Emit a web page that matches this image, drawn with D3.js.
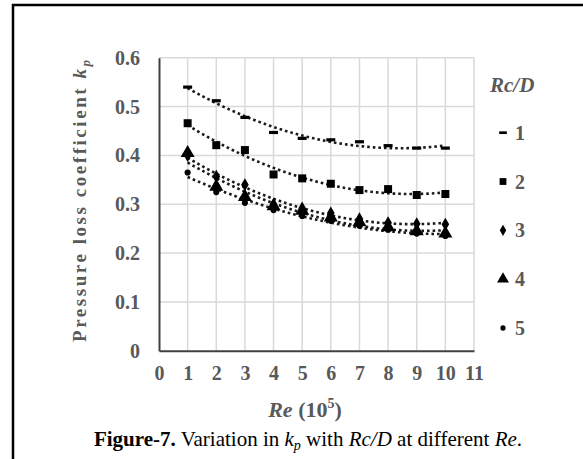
<!DOCTYPE html>
<html><head><meta charset="utf-8">
<script src="https://cdn.jsdelivr.net/npm/d3@7"></script>
<style>body{margin:0;background:#fff}svg{display:block}</style>
</head><body><svg id="c" width="583" height="459"></svg>
<script>
// ---- data ----
const reValues = [1, 2, 3, 4, 5, 6, 7, 8, 9, 10];
const rcdLabels = ["1", "2", "3", "4", "5"];
const kpRcd1 = [0.540, 0.512, 0.478, 0.447, 0.435, 0.432, 0.428, 0.420, 0.415, 0.415];
const kpRcd2 = [0.466, 0.421, 0.411, 0.361, 0.353, 0.342, 0.329, 0.331, 0.319, 0.321];
const kpRcd3 = [0.400, 0.357, 0.340, 0.300, 0.292, 0.282, 0.270, 0.262, 0.260, 0.259];
const kpRcd4 = [0.405, 0.336, 0.315, 0.296, 0.287, 0.273, 0.263, 0.253, 0.245, 0.240];
const kpRcd5 = [0.365, 0.325, 0.303, 0.288, 0.276, 0.266, 0.256, 0.248, 0.240, 0.235];
const xTickValues = [0, 1, 2, 3, 4, 5, 6, 7, 8, 9, 10, 11];
const yTickValues = [0, 0.1, 0.2, 0.3, 0.4, 0.5, 0.6];
const yTickLabels = ["0", "0.1", "0.2", "0.3", "0.4", "0.5", "0.6"];

const seriesList = [kpRcd1, kpRcd2, kpRcd3, kpRcd4, kpRcd5];
const markerKinds = ["dash", "square", "diamond", "triangle", "circle"];

// ---- layout ----
const svg = d3.select("#c");
const pL = 159, pR = 474, pT = 57.8, pB = 350.7;
const x = d3.scaleLinear().domain([0, 11]).range([pL, pR]);
const y = d3.scaleLinear().domain([0, 0.6]).range([pB, pT]);
const gray = "#595959";
const serif = "'Liberation Serif','DejaVu Serif',serif";

// page frame
svg.append("line").attr("x1", 13).attr("x2", 13).attr("y1", 4).attr("y2", 459)
  .attr("stroke", "#000").attr("stroke-width", 2.5);
svg.append("line").attr("x1", 12).attr("x2", 583).attr("y1", 5).attr("y2", 5)
  .attr("stroke", "#000").attr("stroke-width", 2.5);

// gridlines
const grid = svg.append("g").attr("stroke", "#d9d9d9").attr("stroke-width", 1.5);
grid.selectAll(".gx").data(xTickValues.filter(d => d > 0)).join("line")
  .attr("x1", d => x(d)).attr("x2", d => x(d)).attr("y1", pT).attr("y2", pB);
grid.selectAll(".gy").data(yTickValues.filter(d => d > 0)).join("line")
  .attr("x1", pL).attr("x2", pR).attr("y1", d => y(d)).attr("y2", d => y(d));

// axes via d3
const xAxis = d3.axisBottom(x).tickValues(xTickValues).tickSize(0).tickPadding(15)
  .tickFormat(d3.format("d"));
const gx = svg.append("g").attr("transform", `translate(0,${pB})`).call(xAxis);
gx.select(".domain").attr("stroke", "#404040").attr("stroke-width", 2);
gx.selectAll("text").attr("font-family", serif).attr("font-size", 20)
  .attr("font-weight", "bold").attr("fill", gray);

const yAxis = d3.axisLeft(y).tickValues(yTickValues).tickSize(0).tickPadding(19)
  .tickFormat((d, i) => yTickLabels[i]);
const gy = svg.append("g").attr("transform", `translate(${pL},0)`).call(yAxis);
gy.select(".domain").attr("stroke", "#404040").attr("stroke-width", 2);
gy.selectAll("text").attr("font-family", serif).attr("font-size", 20)
  .attr("font-weight", "bold").attr("fill", gray);

// quadratic least-squares trendline from the data
function polyfit2(xs, ys) {
  let n = xs.length, s = [0,0,0,0,0], t = [0,0,0];
  for (let i = 0; i < n; i++) {
    const xi = xs[i], yi = ys[i];
    for (let k = 0; k < 5; k++) s[k] += Math.pow(xi, k);
    for (let k = 0; k < 3; k++) t[k] += yi * Math.pow(xi, k);
  }
  const A = [[s[0], s[1], s[2], t[0]], [s[1], s[2], s[3], t[1]], [s[2], s[3], s[4], t[2]]];
  for (let i = 0; i < 3; i++) {
    for (let j = i + 1; j < 3; j++) {
      const f = A[j][i] / A[i][i];
      for (let k = i; k < 4; k++) A[j][k] -= f * A[i][k];
    }
  }
  const c = [0,0,0];
  for (let i = 2; i >= 0; i--) {
    let v = A[i][3];
    for (let k = i + 1; k < 3; k++) v -= A[i][k] * c[k];
    c[i] = v / A[i][i];
  }
  return xv => c[0] + c[1] * xv + c[2] * xv * xv;
}

const line = d3.line().x(d => x(d[0])).y(d => y(d[1]));
const xs = d3.range(reValues[0], reValues[reValues.length - 1] + 0.001, 0.1);
seriesList.forEach(vals => {
  const f = polyfit2(reValues, vals);
  svg.append("path").datum(xs.map(v => [v, f(v)])).attr("d", line)
    .attr("fill", "none").attr("stroke", "#1a1a1a").attr("stroke-width", 2.6)
    .attr("stroke-dasharray", "2.6 3");
});

function drawMarker(g, kind, cx, cy, scale) {
  scale = scale || 1;
  if (kind === "dash") {
    g.append("rect").attr("x", cx - 4.5 * scale).attr("y", cy - 1.6 * scale)
      .attr("width", 9 * scale).attr("height", 3.2 * scale).attr("fill", "#000");
  } else {
    const typ = { square: d3.symbolSquare, diamond: d3.symbolDiamond,
      triangle: d3.symbolTriangle, circle: d3.symbolCircle }[kind];
    const size = { square: 64, diamond: 50, triangle: 85, circle: 30 }[kind] * scale * scale;
    g.append("path").attr("d", d3.symbol().type(typ).size(size)())
      .attr("transform", `translate(${cx},${cy})`).attr("fill", "#000");
  }
}

// markers
seriesList.forEach((vals, si) => {
  const g = svg.append("g");
  vals.forEach((v, i) => drawMarker(g, markerKinds[si], x(reValues[i]), y(v)));
});

// legend
svg.append("text").attr("x", 490).attr("y", 92).attr("font-family", serif)
  .attr("font-size", 21).attr("font-weight", "bold").attr("font-style", "italic")
  .attr("fill", gray).text("Rc/D");
const legY = d3.scalePoint().domain(rcdLabels).range([132.7, 328]);
rcdLabels.forEach((lab, i) => {
  const g = svg.append("g");
  drawMarker(g, markerKinds[i], 503, legY(lab), 0.85);
  g.append("text").attr("x", 515).attr("y", legY(lab)).attr("dy", "0.35em")
    .attr("font-family", serif).attr("font-size", 20).attr("font-weight", "bold")
    .attr("fill", gray).text(lab);
});

// axis titles
const yt = svg.append("text").attr("transform", `translate(86,201) rotate(-90)`)
  .attr("text-anchor", "middle").attr("font-family", serif).attr("font-size", 19)
  .attr("font-weight", "bold").attr("fill", gray)
  .attr("textLength", 282).attr("lengthAdjust", "spacing");
yt.append("tspan").text("Pressure loss coefficient  ");
yt.append("tspan").attr("font-style", "italic").text("k");
yt.append("tspan").attr("font-style", "italic").attr("font-size", 13).attr("dy", 4).text("p");

const xt = svg.append("text").attr("x", 305).attr("y", 417).attr("text-anchor", "middle")
  .attr("font-family", serif).attr("font-size", 22).attr("font-weight", "bold").attr("fill", gray);
xt.append("tspan").attr("font-style", "italic").text("Re");
xt.append("tspan").text(" (10");
xt.append("tspan").attr("font-size", 14).attr("dy", -9).text("5");
xt.append("tspan").attr("dy", 9).text(")");

// caption
const cap = svg.append("text").attr("x", 308).attr("y", 446).attr("text-anchor", "middle")
  .attr("font-family", serif).attr("font-size", 21).attr("fill", "#000");
cap.append("tspan").attr("font-weight", "bold").text("Figure-7.");
cap.append("tspan").text(" Variation in ");
cap.append("tspan").attr("font-style", "italic").text("k");
cap.append("tspan").attr("font-style", "italic").attr("font-size", 14).attr("dy", 4).text("p");
cap.append("tspan").attr("dy", -4).text(" with ");
cap.append("tspan").attr("font-style", "italic").text("Rc/D");
cap.append("tspan").text(" at different ");
cap.append("tspan").attr("font-style", "italic").text("Re");
cap.append("tspan").text(".");
</script></body></html>
